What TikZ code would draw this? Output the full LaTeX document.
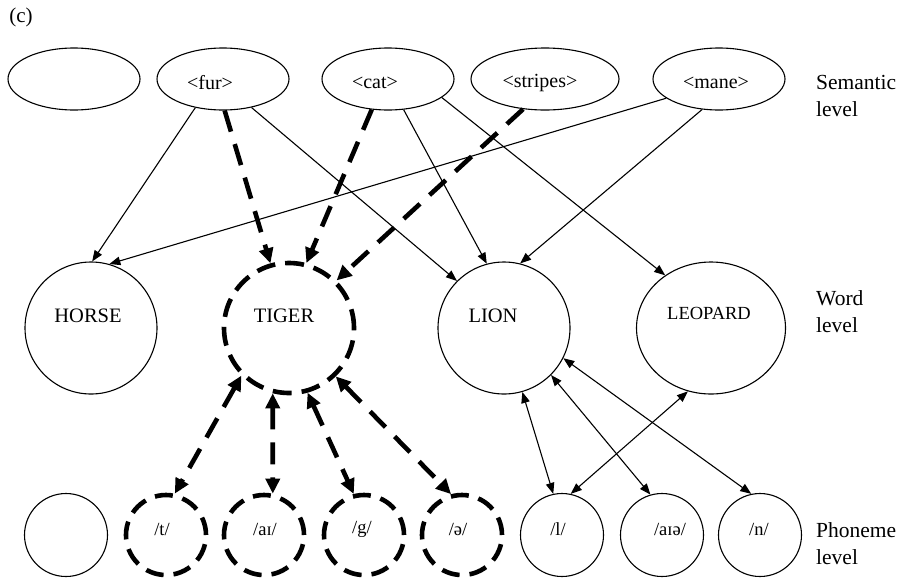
\documentclass[tikz,border=0pt]{standalone}
\usepackage{fontspec}
\setmainfont{Liberation Serif}
\usetikzlibrary{arrows.meta,shapes.geometric}
\begin{document}
\begin{tikzpicture}[x=1pt,y=-1pt,
 sem/.style={draw, ellipse, line width=1.1pt, minimum width=132pt, minimum height=62pt, inner sep=0pt},
 wrd/.style={draw, circle, line width=1.1pt, minimum size=132pt, inner sep=0pt},
 wrdd/.style={wrd, line width=4.6pt, dash pattern=on 19pt off 10pt, minimum size=130pt},
 pho/.style={draw, circle, line width=1.1pt, minimum size=83pt, inner sep=0pt},
 phod/.style={pho, line width=4.6pt, dash pattern=on 18pt off 10pt, minimum size=80pt},
 thinarr/.style={line width=1.1pt, -{Triangle[length=11pt,width=8.5pt]}},
 thinbi/.style={line width=1.1pt, {Triangle[length=11pt,width=8.5pt]}-{Triangle[length=11pt,width=8.5pt]}},
 thickarr/.style={line width=4.6pt, dash pattern=on 22pt off 13pt, -{Triangle[length=15pt,width=14pt]}},
 thickbi/.style={line width=4.6pt, dash pattern=on 22pt off 13pt, {Triangle[length=15pt,width=14pt]}-{Triangle[length=15pt,width=14pt]}},
 semtxt/.style={inner sep=0pt, font=\fontsize{20}{22}\selectfont},
 wrdtxt/.style={inner sep=0pt, font=\fontsize{20.5}{22}\selectfont},
 photxt/.style={inner sep=0pt, font=\fontsize{18.5}{22}\selectfont},
 lvl/.style={inner sep=0pt, anchor=west, align=left, font=\fontsize{21.5}{27}\selectfont},
]
\useasboundingbox (0,0) rectangle (902,579);

\node[inner sep=0pt, font=\fontsize{21}{24}\selectfont] (title) at (21,17) {(c)};

% semantic level
\node[sem] (sem0) at (74,79) {};
\node[sem] (fur) at (223,79) {};
\node[sem] (cat) at (388,79) {};
\node[sem, minimum width=148pt] (stripes) at (545,79) {};
\node[sem] (mane) at (719,79) {};
\node[semtxt] (furT) at (210,83) {<fur>};
\node[semtxt] (catT) at (375,83) {<cat>};
\node[semtxt] (stripesT) at (540,83) {<stripes>};
\node[semtxt] (maneT) at (716,83) {<mane>};

% word level
\node[wrd] (horse) at (91,328) {};
\node[wrdd] (tiger) at (289,328) {};
\node[wrd] (lion) at (504,328) {};
\node[wrd, ellipse, minimum width=149pt, minimum height=132pt] (leopard) at (711,328) {};
\node[wrdtxt] (horseT) at (88,316) {HORSE};
\node[wrdtxt] (tigerT) at (284,316) {TIGER};
\node[wrdtxt] (lionT) at (493,316) {LION};
\node[wrdtxt, font=\fontsize{18.5}{22}\selectfont] (leopardT) at (709,313) {LEOPARD};

% phoneme level
\node[pho] (ph0) at (66,535) {};
\node[phod] (t) at (166,535) {};
\node[phod] (ai) at (264,535) {};
\node[phod] (g) at (364,535) {};
\node[phod] (schwa) at (462,535) {};
\node[pho] (l) at (562,535) {};
\node[pho] (aie) at (662,535) {};
\node[pho] (n) at (760,535) {};
\node[photxt] (tT) at (162,529) {/t/};
\node[photxt] (aiT) at (265,529) {/aɪ/};
\node[photxt] (gT) at (362,529) {/g/};
\node[photxt] (schwaT) at (458,529) {/ə/};
\node[photxt] (lT) at (558,529) {/l/};
\node[photxt] (aieT) at (670,529) {/aɪə/};
\node[photxt] (nT) at (759,529) {/n/};

% level labels
\node[lvl] (semL) at (816,96) {Semantic\\level};
\node[lvl] (wrdL) at (816,312) {Word\\level};
\node[lvl] (phoL) at (816,544) {Phoneme\\level};

% thin connectors
\draw[thinarr] (fur.226) -- (horse.89);
\draw[thinarr] (mane.200) -- (horse.74);
\draw[thinarr] (fur.315) -- (lion.135);
\draw[thinarr] (cat.297) -- (lion.105);
\draw[thinarr] (mane.241) -- (lion.76);
\draw[thinarr] (cat.341) -- (leopard.131);

% thick dashed connectors
\draw[thickarr] (fur.273) -- (tiger.106);
\draw[thickarr] (cat.242) -- (tiger.75);
\draw[thickarr] (stripes.234) -- (tiger.45);

\draw[thickbi] (tiger.225) -- (t.78);
\draw[thickbi] (tiger.256) -- (ai.78);
\draw[thickbi] (tiger.286) -- (g.104);
\draw[thickbi] (tiger.314) -- (schwa.105);

% thin bidirectional
\draw[thinbi] (lion.286) -- (l.102);
\draw[thinbi] (lion.315) -- (aie.106);
\draw[thinbi] (lion.333) -- (n.102);
\draw[thinbi] (leopard.250) -- (l.78);
\end{tikzpicture}
\end{document}
